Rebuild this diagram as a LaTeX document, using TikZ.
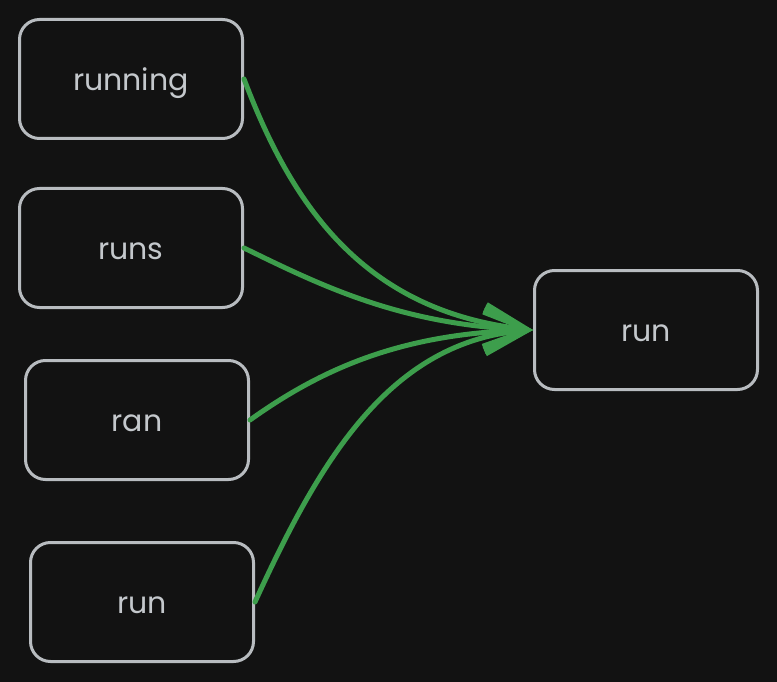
\documentclass[tikz,border=0pt]{standalone}
\usepackage{fontspec}
\setmainfont{Poppins}
\usetikzlibrary{arrows.meta}
\definecolor{bg}{HTML}{121212}
\definecolor{strokegray}{HTML}{B8BCC0}
\definecolor{textgray}{HTML}{C4C8CC}
\definecolor{arrowgreen}{HTML}{3D9E4C}
\tikzset{
  box/.style={draw=strokegray, line width=3pt, rounded corners=20pt, minimum width=223pt, minimum height=119pt, inner sep=0pt, text height=29pt, text depth=6pt, text=textgray, font=\fontsize{30}{34}\selectfont},
  link/.style={draw=arrowgreen, line width=5pt, line cap=round, -{Straight Barb[length=44pt, width=42pt, line width=4pt]}}
}
\begin{document}
\begin{tikzpicture}[x=1pt, y=-1pt]
\fill[bg] (0,0) rectangle (777,682);
\useasboundingbox (0,0) rectangle (777,682);
\node[box] (a) at (131,79) {running};
\node[box] (b) at (131,248) {runs};
\node[box] (c) at (137,420) {ran};
\node[box] (d) at (142,602) {run};
\node[box] (r) at (646,330) {run};
\draw[link] (a.east) .. controls (290,200) and (360,312) .. (r.west);
\draw[link] (b.east) .. controls (320,285) and (400,325) .. (r.west);
\draw[link] (c.east) .. controls (320,370) and (400,333) .. (r.west);
\draw[link] (d.east) .. controls (320,460) and (390,340) .. (r.west);
\end{tikzpicture}
\end{document}
